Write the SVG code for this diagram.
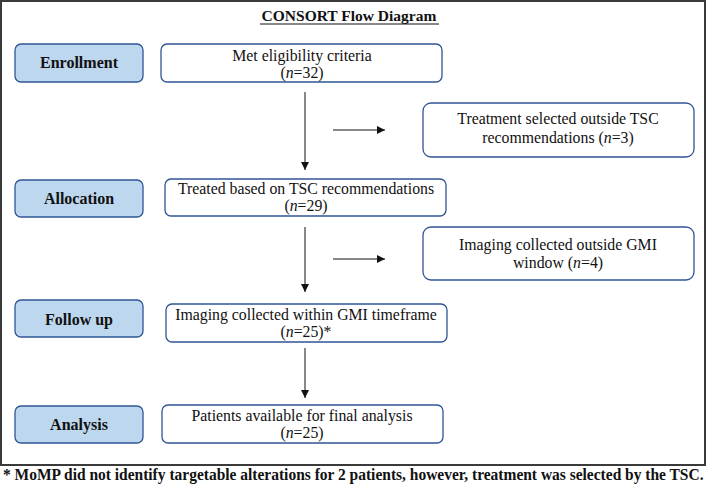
<svg xmlns="http://www.w3.org/2000/svg" width="709" height="486" viewBox="0 0 709 486">
<defs>
<style>
.frame{fill:none;stroke:#3a3a3a;stroke-width:2}
.lab{fill:#bdd7ee;stroke:#2f5597;stroke-width:1.3}
.box{fill:#fff;stroke:#2f5597;stroke-width:1.3}
.lt{font-family:"Liberation Serif","Times New Roman",serif;font-weight:bold;font-size:16px;fill:#111;text-anchor:middle}
.bt{font-family:"Liberation Serif","Times New Roman",serif;font-size:15.8px;fill:#111;text-anchor:middle}
.conn{stroke:#111;stroke-width:1;fill:none}
</style>
<marker id="ah" viewBox="0 0 10 10" refX="10" refY="5" markerWidth="8" markerHeight="8" markerUnits="userSpaceOnUse" orient="auto">
<path d="M0,0 L10,5 L0,10 z" fill="#111"/>
</marker>
</defs>
<rect width="709" height="486" fill="#fff"/>
<rect class="frame" x="1" y="1" width="704" height="464"/>
<g id="title">
<text x="349" y="21" class="lt" style="font-size:15.5px">CONSORT Flow Diagram</text>
<line x1="260" y1="24" x2="439" y2="24" stroke="#111" stroke-width="1"/>
</g>
<g id="enrollment"><rect class="lab" x="15" y="44" width="128" height="38" rx="6"/><text class="lt" x="79" y="68">Enrollment</text></g>
<g id="allocation"><rect class="lab" x="15" y="180" width="128" height="37" rx="6"/><text class="lt" x="79" y="204">Allocation</text></g>
<g id="followup"><rect class="lab" x="15" y="300" width="128" height="37" rx="6"/><text class="lt" x="79" y="325">Follow up</text></g>
<g id="analysis"><rect class="lab" x="15" y="406" width="128" height="37" rx="6"/><text class="lt" x="79" y="430">Analysis</text></g>
<g id="met"><rect class="box" x="161" y="44" width="281" height="38" rx="6"/><text class="bt" x="302" y="61">Met eligibility criteria</text><text class="bt" x="302" y="78">(<tspan font-style="italic">n</tspan>=32)</text></g>
<g id="outsideTSC"><rect class="box" x="423" y="103" width="271" height="54" rx="8"/><text class="bt" x="558" y="124">Treatment selected outside TSC</text><text class="bt" x="558" y="143">recommendations (<tspan font-style="italic">n</tspan>=3)</text></g>
<g id="treated"><rect class="box" x="165" y="179" width="281" height="37" rx="6"/><text class="bt" x="306" y="194">Treated based on TSC recommendations</text><text class="bt" x="306" y="211">(<tspan font-style="italic">n</tspan>=29)</text></g>
<g id="outsideGMI"><rect class="box" x="423" y="227" width="271" height="53" rx="8"/><text class="bt" x="558" y="250">Imaging collected outside GMI</text><text class="bt" x="558" y="268">window (<tspan font-style="italic">n</tspan>=4)</text></g>
<g id="within"><rect class="box" x="166" y="304" width="281" height="38" rx="6"/><text class="bt" x="306" y="320">Imaging collected within GMI timeframe</text><text class="bt" x="306" y="337">(<tspan font-style="italic">n</tspan>=25)*</text></g>
<g id="patients"><rect class="box" x="162" y="405" width="281" height="38" rx="6"/><text class="bt" x="302" y="421">Patients available for final analysis</text><text class="bt" x="302" y="438">(<tspan font-style="italic">n</tspan>=25)</text></g>
<g id="connectors">
<line class="conn" x1="305" y1="92" x2="305" y2="170" marker-end="url(#ah)"/>
<line class="conn" x1="333" y1="130" x2="385" y2="130" marker-end="url(#ah)"/>
<line class="conn" x1="305" y1="227" x2="305" y2="292" marker-end="url(#ah)"/>
<line class="conn" x1="333" y1="259" x2="385" y2="259" marker-end="url(#ah)"/>
<line class="conn" x1="305" y1="348" x2="305" y2="398" marker-end="url(#ah)"/>
</g>
<g id="footnote"><text transform="translate(3,480) scale(0.968,1)" font-family="'Liberation Serif','Times New Roman',serif" font-weight="bold" font-size="16" fill="#111">* MoMP did not identify targetable alterations for 2 patients, however, treatment was selected by the TSC.</text></g>
</svg>
